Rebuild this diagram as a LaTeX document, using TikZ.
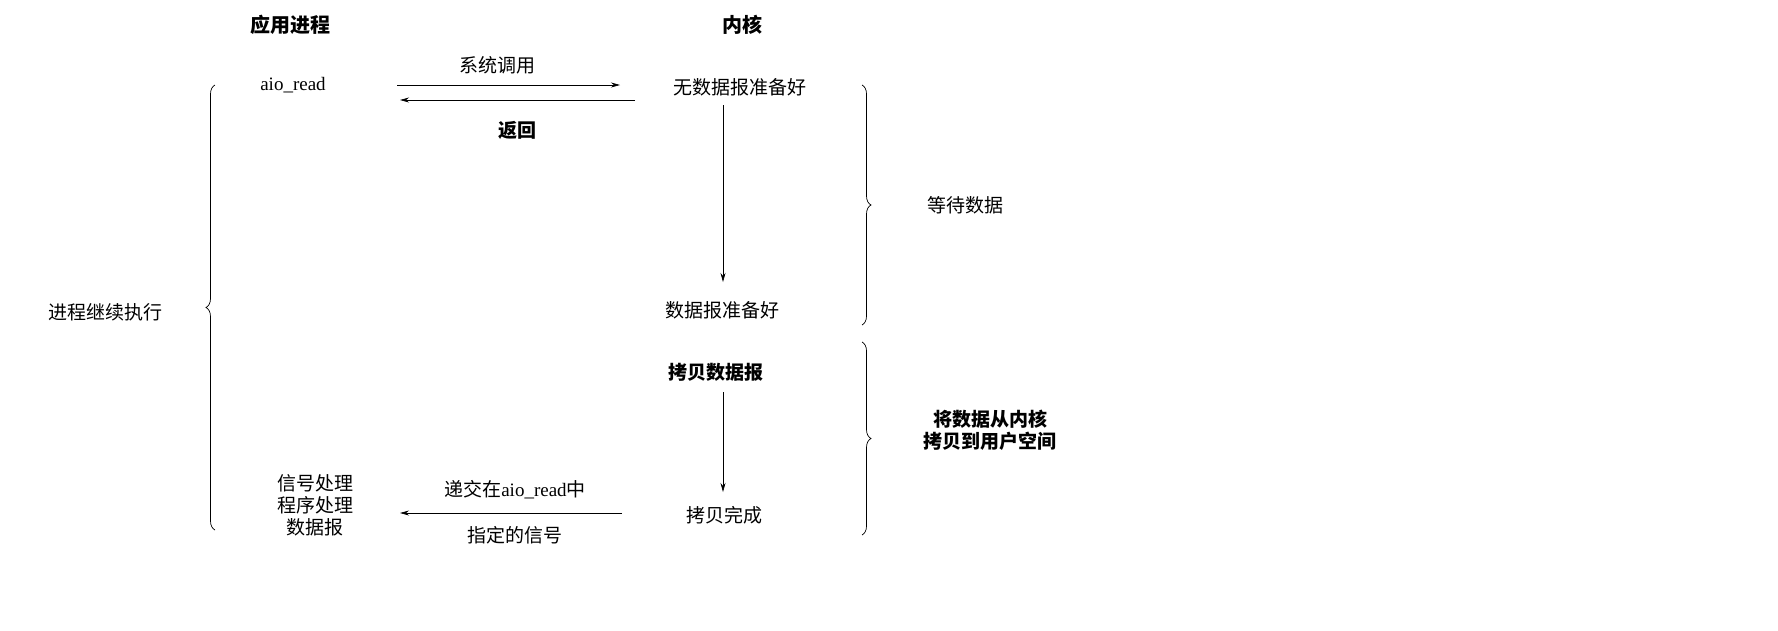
\documentclass[tikz,border=0pt]{standalone}
\usepackage{fontspec}
\setmainfont{Liberation Serif}
\newfontfamily\cjk{Noto Sans CJK SC}
\usetikzlibrary{decorations.pathreplacing,arrows.meta}
\begin{document}
\begin{tikzpicture}[x=1pt,y=-1pt,
  lbl/.style={font=\cjk\fontsize{19}{22}\selectfont,inner sep=1pt,align=center},
  hd/.style={font=\cjk\bfseries\fontsize{20}{22}\selectfont},
  arr/.style={-{Stealth[length=9pt,width=5pt]},line width=0.7pt},
  brc/.style={decorate,decoration={brace,amplitude=9pt},line width=0.7pt}]
\useasboundingbox (0,0) rectangle (1778,630);
\node[hd] (h1) at (290,25) {应用进程};
\node[hd] (h2) at (742,25) {内核};
\node[lbl,font=\fontsize{19}{22}\selectfont] (aio) at (293,85) {aio\_read};
\node[lbl] (k1) at (740,87) {无数据报准备好};
\node[lbl] (k2) at (722,310) {数据报准备好};
\node[lbl,font=\cjk\bfseries\fontsize{19}{22}\selectfont] (k3) at (716,372) {拷贝数据报};
\node[lbl] (k4) at (724,515) {拷贝完成};
\node[lbl] (sig) at (315,505) {信号处理\\程序处理\\数据报};
\node[lbl] (cont) at (105,312) {进程继续执行};
\node[lbl] (wait) at (965,205) {等待数据};
\node[lbl,font=\cjk\bfseries\fontsize{19}{22}\selectfont] (copy) at (990,430) {将数据从内核\\拷贝到用户空间};
\node[lbl] (sc) at (497,65) {系统调用};
\node[lbl,font=\cjk\bfseries\fontsize{19}{22}\selectfont] (ret) at (517,130) {返回};
\node[lbl] (d1) at (515,490) {递交在{\rmfamily aio\_read}中};
\node[lbl] (d2) at (515,535) {指定的信号};
\coordinate (a1) at (397,85); \coordinate (a2) at (620,85);
\coordinate (b1) at (635,100); \coordinate (b2) at (400,100);
\coordinate (c1) at (622,513); \coordinate (c2) at (400,513);
\draw[arr] (a1) -- (a2);
\draw[arr] (b1) -- (b2);
\draw[arr] (c1) -- (c2);
\draw[arr] (723,105) -- (723,282);
\draw[arr] (723,392) -- (723,492);
\coordinate (r1) at (862,85); \coordinate (r2) at (862,325);
\coordinate (r3) at (862,342); \coordinate (r4) at (862,535);
\coordinate (l1) at (215,530); \coordinate (l2) at (215,85);
\draw[brc] (r1) -- (r2);
\draw[brc] (r3) -- (r4);
\draw[brc] (l1) -- (l2);
\end{tikzpicture}
\end{document}
